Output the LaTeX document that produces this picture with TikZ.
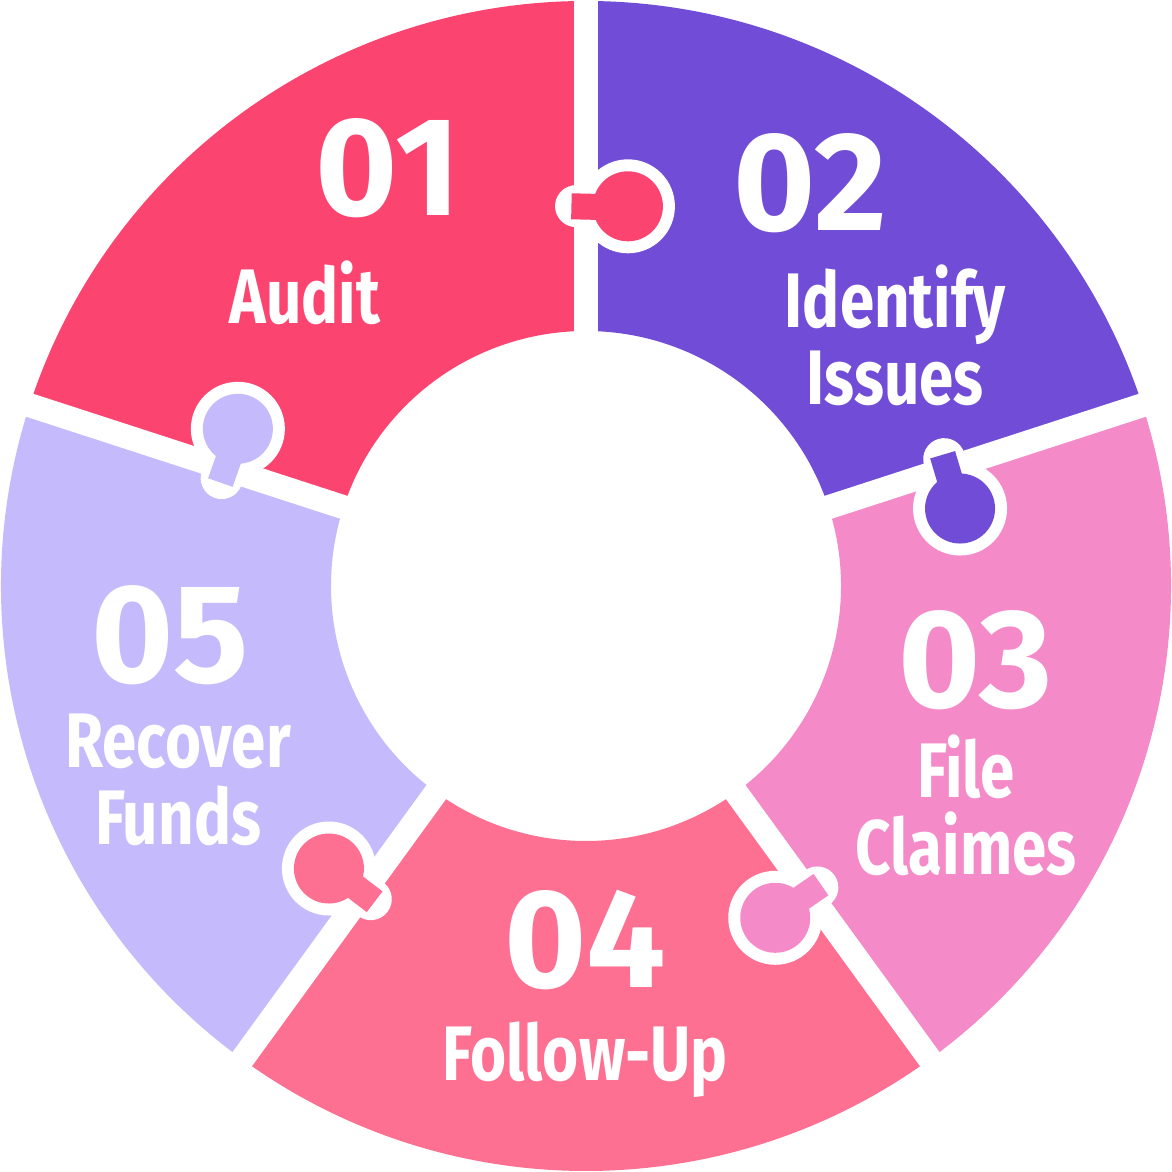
\documentclass[tikz,border=0pt]{standalone}
\usepackage{fontspec}
\setmainfont{Fira Sans}
\usetikzlibrary{positioning}
\definecolor{segone}{HTML}{FB4570}
\definecolor{segtwo}{HTML}{714CD6}
\definecolor{segthree}{HTML}{F48BC8}
\definecolor{segfour}{HTML}{FD7092}
\definecolor{segfive}{HTML}{C5BBFC}
\tikzset{
	num/.style={text=white, font=\fontsize{40}{40}\selectfont\bfseries},
	lbl/.style={text=white, font=\fontsize{22}{22}\selectfont\bfseries, xscale=0.8, align=center}
}
\begin{document}
\begin{tikzpicture}
	\useasboundingbox (0,0) rectangle (11.72,11.72);
	
	% ring segments
	\foreach \a/\c in {90/segone, 18/segtwo, -54/segthree, -126/segfour, 162/segfive}{
		\fill[\c, shift={(5.86,5.86)}] (\a:2.55) -- (\a:5.85) arc (\a:\a+72:5.85) -- (\a+72:2.55) arc (\a+72:\a:2.55) -- cycle;
	}
	% gaps
	\foreach \a in {90, 18, -54, -126, 162}{
		\draw[white, line width=0.24cm, shift={(5.86,5.86)}] (\a:2.4) -- (\a:6.1);
	}
	% knobs
	\foreach \a/\c in {90/segone, 18/segtwo, -54/segthree, -126/segfour, 162/segfive}{
		\begin{scope}[shift={(5.86,5.86)}]
			\fill[white] (\a-6.3:3.82) circle (0.47);
			\draw[white, line width=0.42cm, line cap=round] (\a+1.5:3.80) -- (\a-5:3.80);
			\draw[\c, line width=0.26cm] (\a+2.2:3.80) -- (\a-5:3.80);
			\fill[\c] (\a-6.3:3.82) circle (0.35);
		\end{scope}
	}
	
	% texts
	\node[num] (n1) at (3.88,10.04) {01};
	\node[lbl] (l1) at (3.05,8.79) {Audit};
	\node[num] (n2) at (8.10,9.89) {02};
	\node[lbl] (l2) at (8.95,8.37) {Identify\\Issues};
	\node[num] (n3) at (9.75,5.12) {03};
	\node[lbl] (l3) at (9.66,3.67) {File\\Claimes};
	\node[num] (n4) at (5.85,2.32) {04};
	\node[lbl] (l4) at (5.85,1.12) {Follow-Up};
	\node[num] (n5) at (1.70,5.37) {05};
	\node[lbl] (l5) at (1.78,3.92) {Recover\\Funds};
	
\end{tikzpicture}
\end{document}
